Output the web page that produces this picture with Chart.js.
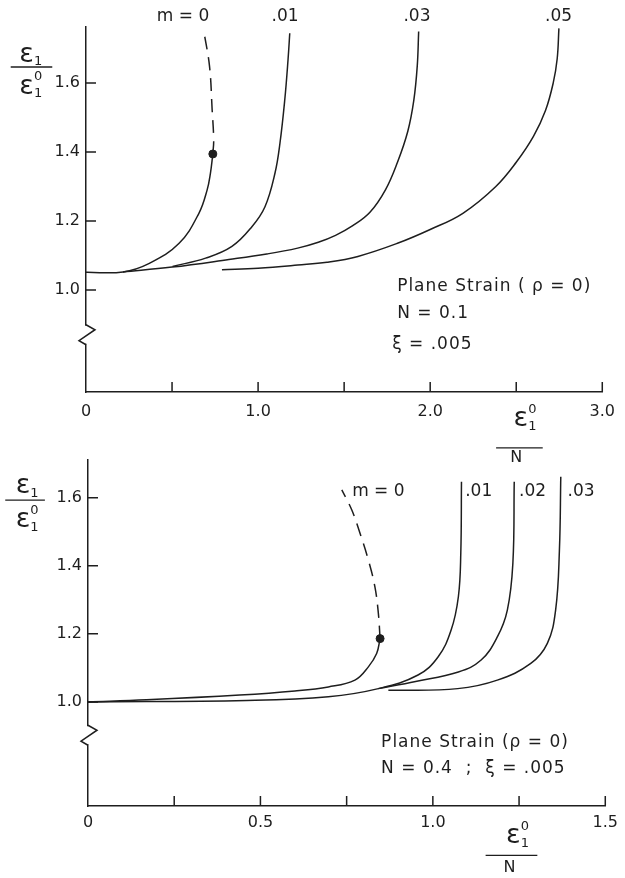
<!DOCTYPE html>
<html>
<head>
<meta charset="utf-8">
<script src="https://cdn.jsdelivr.net/npm/chart.js@4.4.1/dist/chart.umd.min.js"></script>
<style>
  body { margin: 0; background: #fff; width: 625px; height: 878px; position: relative; overflow: hidden; }
  canvas { position: absolute; left: 0; }
  #topChart { top: 0; }
  #botChart { top: 440px; }
</style>
</head>
<body>
<canvas id="topChart" width="625" height="470"></canvas>
<canvas id="botChart" width="625" height="438"></canvas>
<script>
// ---- upper panel : N = 0.1, xi = .005 ----
const topXTicks = [0, 0.5, 1, 1.5, 2, 2.5, 3];
const topXLabels = ['0', '', '1.0', '', '2.0', '', '3.0'];
const topYTicks = [1.0, 1.2, 1.4, 1.6];
const topYLabels = ['1.0', '1.2', '1.4', '1.6'];

const topM0X = [0, 0.215, 0.368, 0.541, 0.656, 0.704, 0.723, 0.737];
const topM0Y = [1.051, 1.052, 1.077, 1.135, 1.222, 1.29, 1.338, 1.394];
const topM0DashX = [0.737, 0.742, 0.733, 0.718, 0.685];
const topM0DashY = [1.394, 1.435, 1.522, 1.647, 1.749];
const topM01X = [0.503, 0.695, 0.848, 0.964, 1.04, 1.098, 1.127, 1.155, 1.174, 1.184];
const topM01Y = [1.068, 1.092, 1.126, 1.183, 1.241, 1.338, 1.425, 1.551, 1.667, 1.744];
const topM03X = [0.215, 0.5, 0.83, 1.05, 1.23, 1.35, 1.45, 1.55, 1.65, 1.74, 1.81, 1.87, 1.905, 1.925, 1.933];
const topM03Y = [1.052, 1.066, 1.088, 1.104, 1.121, 1.138, 1.158, 1.186, 1.225, 1.29, 1.37, 1.46, 1.55, 1.65, 1.749];
const topM05X = [0.79, 1.0, 1.23, 1.4, 1.58, 1.81, 2.0, 2.19, 2.38, 2.5, 2.6, 2.67, 2.715, 2.738, 2.748];
const topM05Y = [1.058, 1.063, 1.072, 1.08, 1.097, 1.135, 1.175, 1.222, 1.299, 1.37, 1.445, 1.52, 1.6, 1.67, 1.758];
const topDot = [0.737, 1.394];

// ---- lower panel : N = 0.4, xi = .005 ----
const botXTicks = [0, 0.25, 0.5, 0.75, 1.0, 1.25, 1.5];
const botXLabels = ['0', '', '0.5', '', '1.0', '', '1.5'];
const botYTicks = [1.0, 1.2, 1.4, 1.6];
const botYLabels = ['1.0', '1.2', '1.4', '1.6'];

const botM0X = [0, 0.17, 0.44, 0.6, 0.697, 0.774, 0.813, 0.837, 0.847];
const botM0Y = [1.0, 1.006, 1.02, 1.032, 1.044, 1.064, 1.103, 1.142, 1.186];
const botM0DashX = [0.847, 0.842, 0.832, 0.813, 0.789, 0.765, 0.736];
const botM0DashY = [1.186, 1.26, 1.338, 1.417, 1.495, 1.564, 1.623];
const botM01X = [0, 0.46, 0.697, 0.842, 0.957, 1.015, 1.053, 1.074, 1.081, 1.083];
const botM01Y = [1.0, 1.004, 1.015, 1.039, 1.079, 1.132, 1.211, 1.309, 1.436, 1.647];
const botM02X = [0.842, 0.95, 1.074, 1.14, 1.187, 1.216, 1.232, 1.236];
const botM02Y = [1.039, 1.06, 1.088, 1.123, 1.191, 1.27, 1.407, 1.647];
const botM03X = [0.871, 1.072, 1.187, 1.284, 1.332, 1.356, 1.367, 1.371];
const botM03Y = [1.034, 1.039, 1.064, 1.113, 1.172, 1.27, 1.446, 1.662];
const botDot = [0.847, 1.186];

const INK = '#1e1e1e';
const FAM = '"DejaVu Sans", sans-serif';

function pts(xs, ys) {
  return xs.map((x, i) => ({ x: x, y: ys[i] }));
}

function curve(xs, ys, dashed) {
  return {
    data: pts(xs, ys),
    borderColor: INK,
    borderWidth: 1.5,
    borderDash: dashed ? [13, 8] : [],
    pointRadius: 0,
    tension: 0.4,
    fill: false
  };
}

function dot(p) {
  return {
    data: [{ x: p[0], y: p[1] }],
    showLine: false,
    pointRadius: 4,
    pointBackgroundColor: INK,
    pointBorderColor: INK
  };
}

// epsilon with subscript 1 and optional superscript 0
function drawEps(ctx, cx, cy, sup) {
  ctx.font = '27px ' + FAM;
  const w = ctx.measureText('ε').width;
  const total = w + 8;
  const x0 = cx - total / 2;
  ctx.textAlign = 'left';
  ctx.fillText('ε', x0, cy);
  ctx.font = '13px ' + FAM;
  ctx.fillText('1', x0 + w, cy + 7);
  if (sup) ctx.fillText('0', x0 + w, cy - 10);
}

function decor(d) {
  return {
    id: 'decor',
    afterDraw(chart) {
      const { ctx, chartArea: a, scales: { x, y } } = chart;
      ctx.save();
      ctx.strokeStyle = INK;
      ctx.fillStyle = INK;
      ctx.lineWidth = 1.5;

      // ticks point into the plot
      ctx.beginPath();
      d.xTicks.forEach(v => {
        if (v === 0) return;
        const px = x.getPixelForValue(v);
        ctx.moveTo(px, a.bottom);
        ctx.lineTo(px, a.bottom - 10);
      });
      d.yTicks.forEach(v => {
        const py = y.getPixelForValue(v);
        ctx.moveTo(a.left, py);
        ctx.lineTo(a.left + 10, py);
      });
      ctx.stroke();

      // axis break
      const by = y.getPixelForValue(d.breakAt);
      ctx.fillStyle = '#fff';
      ctx.fillRect(a.left - 3, by - 9, 6, 18);
      ctx.fillStyle = INK;
      ctx.beginPath();
      ctx.moveTo(a.left, by - 10);
      ctx.lineTo(a.left + 9, by - 5);
      ctx.lineTo(a.left - 7, by + 6);
      ctx.lineTo(a.left, by + 10);
      ctx.stroke();

      // labels
      ctx.textBaseline = 'middle';
      d.texts.forEach(t => {
        ctx.font = (t.size || 17) + 'px ' + FAM;
        ctx.letterSpacing = (t.spacing || 0) + 'px';
        ctx.textAlign = t.align || 'center';
        ctx.fillText(t.s, x.getPixelForValue(t.x), y.getPixelForValue(t.y));
      });
      ctx.letterSpacing = '0px';

      // fraction titles
      d.fracs.forEach(f => {
        const cx = x.getPixelForValue(f.x);
        drawEps(ctx, cx, y.getPixelForValue(f.top), f.topSup);
        ctx.lineWidth = 1.3;
        ctx.beginPath();
        ctx.moveTo(x.getPixelForValue(f.x0), y.getPixelForValue(f.line));
        ctx.lineTo(x.getPixelForValue(f.x1), y.getPixelForValue(f.line));
        ctx.stroke();
        if (f.bottom === 'N') {
          ctx.font = '16px ' + FAM;
          ctx.textAlign = 'center';
          ctx.fillText('N', x.getPixelForValue(f.nx), y.getPixelForValue(f.bot));
        } else {
          drawEps(ctx, cx, y.getPixelForValue(f.bot), true);
        }
      });
      ctx.restore();
    }
  };
}

function makeChart(id, cfg) {
  return new Chart(document.getElementById(id), {
    type: 'line',
    data: { datasets: cfg.datasets },
    options: {
      responsive: false,
      animation: false,
      events: [],
      devicePixelRatio: 1,
      layout: { padding: cfg.padding },
      plugins: { legend: { display: false }, tooltip: { enabled: false } },
      scales: {
        x: {
          type: 'linear',
          min: cfg.xMin, max: cfg.xMax,
          grid: { display: false, drawTicks: false },
          border: { display: true, color: INK, width: 1.5 },
          afterBuildTicks: s => { s.ticks = cfg.xTicks.map(v => ({ value: v })); },
          afterFit: s => { s.height = cfg.xHeight; },
          ticks: {
            autoSkip: false, maxRotation: 0, padding: cfg.xPad, color: INK,
            font: { family: FAM, size: 16 },
            callback: (v, i) => cfg.xLabels[i]
          }
        },
        y: {
          type: 'linear',
          min: cfg.yMin, max: cfg.yMax,
          grid: { display: false, drawTicks: false },
          border: { display: true, color: INK, width: 1.5 },
          afterBuildTicks: s => { s.ticks = cfg.yTicks.map(v => ({ value: v })); },
          afterFit: s => { s.width = cfg.yWidth; },
          ticks: {
            autoSkip: false, padding: 6, color: INK,
            font: { family: FAM, size: 16 },
            callback: (v, i) => cfg.yLabels[i]
          }
        }
      }
    },
    plugins: [decor(cfg.decor)]
  });
}

makeChart('topChart', {
  datasets: [
    curve(topM0X, topM0Y), curve(topM0DashX, topM0DashY, true),
    curve(topM01X, topM01Y), curve(topM03X, topM03Y), curve(topM05X, topM05Y),
    dot(topDot)
  ],
  padding: { top: 27, right: 18, left: 0, bottom: 0 },
  xMin: 0, xMax: 3.0, yMin: 0.704, yMax: 1.762,
  xTicks: topXTicks, xLabels: topXLabels, yTicks: topYTicks, yLabels: topYLabels,
  xHeight: 78, yWidth: 86, xPad: 10,
  decor: {
    xTicks: topXTicks, yTicks: topYTicks, breakAt: 0.87,
    texts: [
      { s: 'm = 0', x: 0.564, y: 1.791 },
      { s: '.01', x: 1.157, y: 1.791 },
      { s: '.03', x: 1.923, y: 1.791 },
      { s: '.05', x: 2.746, y: 1.791 },
      { s: 'Plane Strain ( ρ = 0)', x: 1.808, y: 1.009, align: 'left', spacing: 1 },
      { s: 'N = 0.1', x: 1.808, y: 0.93, align: 'left', spacing: 1 },
      { s: 'ξ = .005', x: 1.779, y: 0.841, align: 'left', spacing: 1 }
    ],
    fracs: [
      { x: -0.322, top: 1.681, topSup: false, line: 1.646, x0: -0.4375, x1: -0.196, bot: 1.588, bottom: 'eps' },
      { x: 2.55, top: 0.625, topSup: true, line: 0.542, x0: 2.383, x1: 2.654, nx: 2.5, bot: 0.514, bottom: 'N' }
    ]
  }
});

makeChart('botChart', {
  datasets: [
    curve(botM0X, botM0Y), curve(botM0DashX, botM0DashY, true),
    curve(botM01X, botM01Y), curve(botM02X, botM02Y), curve(botM03X, botM03Y),
    dot(botDot)
  ],
  padding: { top: 20, right: 17, left: 0, bottom: 0 },
  xMin: 0, xMax: 1.5, yMin: 0.694, yMax: 1.711,
  xTicks: botXTicks, xLabels: botXLabels, yTicks: botYTicks, yLabels: botYLabels,
  xHeight: 72, yWidth: 88, xPad: 7,
  decor: {
    xTicks: botXTicks, yTicks: botYTicks, breakAt: 0.902,
    texts: [
      { s: 'm = 0', x: 0.842, y: 1.618 },
      { s: '.01', x: 1.133, y: 1.618 },
      { s: '.02', x: 1.289, y: 1.618 },
      { s: '.03', x: 1.43, y: 1.618 },
      { s: 'Plane Strain (ρ = 0)', x: 0.85, y: 0.881, align: 'left', spacing: 1 },
      { s: 'N = 0.4  ;  ξ = .005', x: 0.85, y: 0.805, align: 'left', spacing: 1 }
    ],
    fracs: [
      { x: -0.177, top: 1.634, topSup: false, line: 1.593, x0: -0.24, x1: -0.125, bot: 1.534, bottom: 'eps' },
      { x: 1.245, top: 0.605, topSup: true, line: 0.549, x0: 1.153, x1: 1.303, nx: 1.222, bot: 0.511, bottom: 'N' }
    ]
  }
});
</script>
</body>
</html>
